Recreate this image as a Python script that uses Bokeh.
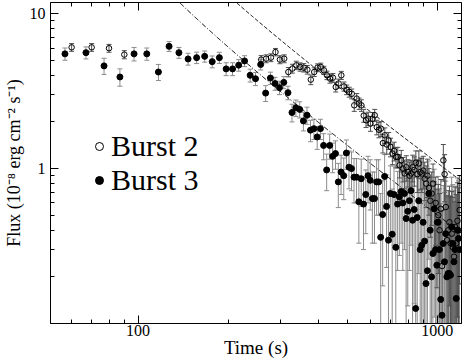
import numpy as np
from bokeh.plotting import figure
from bokeh.models import (ColumnDataSource, Whisker, TeeHead, LogAxis, Legend, LegendItem,
                          Range1d, FixedTicker, PrintfTickFormatter)
from bokeh.embed import file_html
from bokeh.resources import INLINE

# ---------------- data ----------------
# Burst 3 (filled circles)
t3 = [57, 67, 77, 87, 97, 107, 117, 127, 137, 147,
      157, 167, 177, 187, 197, 207, 217, 227, 237, 247,
      257, 267, 277, 287, 297, 307, 317, 327, 337, 347,
      357, 367, 377, 387, 397, 407, 417, 427, 437, 447,
      457, 467, 477, 487, 497, 507, 517, 527, 537, 547,
      557, 567, 577, 587, 597, 607, 617, 627, 637, 647,
      657, 667, 677, 687, 697, 707, 717, 727, 737, 747,
      757, 767, 777, 787, 797, 807, 817, 827, 837, 847,
      857, 867, 877, 887, 897, 907, 917, 927, 937, 947,
      957, 967, 977, 987, 997, 1007, 1017, 1027, 1037, 1047,
      1057, 1067, 1077, 1087, 1097, 1107, 1117, 1127, 1137, 1147,
      1157, 1167, 1177, 1187]
f3 = [5.5, 5.6, 4.6, 3.9, 5.5, 5.5, 4.2, 6.15, 5.6, 5.1,
      5.2, 5.3, 4.9, 5.2, 4.4, 4.4, 4.65, 4.95, 4.0, 3.8,
      4.7, 3.07, 3.84, 3.54, 3.33, 3.6, 3.09, 2.3, 2.47, 2.41,
      2.03, 2.21, 1.77, 1.81, 1.6, 1.81, 1.41, 0.98, 1.41, 1.2,
      1.25, 0.82, 0.95, 0.9, 1.26, 1.02, 1.0, 0.88, 0.88, 0.61,
      0.86, 0.59, 0.68, 0.9, 0.84, 0.64, 0.64, 0.82, 0.82, 0.36,
      0.505, 0.89, 0.57, 0.345, 0.69, 0.377, 0.68, 0.31, 0.59, 0.655,
      0.71, 0.6, 0.69, 0.476, 0.53, 0.62, 0.72, 0.464, 0.544, 0.125,
      0.483, 0.62, 0.30, 0.32, 0.45, 0.34, 0.181, 0.219, 0.69, 0.4,
      0.20, 0.283, 0.55, 0.3, 0.238, 0.45, 0.3, 0.143, 0.113, 0.328,
      0.25, 0.38, 0.2, 0.21, 0.21, 0.205, 0.42, 0.328, 0.25, 0.3,
      0.145, 0.4, 0.354, 0.3]
e3 = [0.5, 0.5, 0.55, 0.5, 0.55, 0.5, 0.5, 0.45, 0.45, 0.45,
      0.44, 0.44, 0.43, 0.43, 0.42, 0.42, 0.4, 0.4, 0.38, 0.37,
      0.37, 0.36, 0.35, 0.34, 0.33, 0.32, 0.31, 0.3, 0.3, 0.29,
      0.28, 0.28, 0.28, 0.27, 0.27, 0.27, 0.27, 0.26, 0.26, 0.26,
      0.26, 0.26, 0.27, 0.27, 0.27, 0.28, 0.28, 0.28, 0.28, 0.28,
      0.29, 0.29, 0.3, 0.3, 0.3, 0.31, 0.31, 0.32, 0.32, 0.33,
      0.33, 0.34, 0.34, 0.35, 0.35, 0.36, 0.36, 0.37, 0.37, 0.38,
      0.38, 0.38, 0.39, 0.39, 0.4, 0.4, 0.4, 0.4, 0.41, 0.41,
      0.41, 0.41, 0.42, 0.42, 0.42, 0.42, 0.42, 0.43, 0.43, 0.43,
      0.43, 0.43, 0.44, 0.44, 0.44, 0.44, 0.44, 0.45, 0.45, 0.45,
      0.45, 0.45, 0.45, 0.46, 0.46, 0.46, 0.46, 0.46, 0.47, 0.47,
      0.47, 0.47, 0.48, 0.48]

# Burst 2 (open circles)
t2 = [60, 70, 80, 90,
      258, 268, 278, 288, 298, 308, 318, 328, 338, 348,
      358, 368, 378, 388, 398, 408, 418, 428, 438, 448,
      458, 468, 478, 488, 498, 508, 518, 528, 538, 548,
      558, 568, 578, 588, 598, 608, 618, 628, 638, 648,
      658, 668, 678, 688, 698, 708, 718, 728, 738, 748,
      758, 768, 778, 788,
      798, 808, 818, 828, 838, 848, 858, 868, 878, 888,
      898, 908, 918, 928, 938, 948, 958, 968, 978, 988,
      998, 1008, 1018, 1028, 1038, 1048, 1058, 1068, 1078, 1088,
      1098, 1108, 1118, 1128, 1138, 1148, 1158, 1168, 1178, 1188]
f2 = [6.06, 6.06, 5.98, 5.44,
      5.05, 5.12, 5.2, 5.65, 5.05, 5.12, 4.2, 4.42, 4.64, 4.53,
      4.48, 4.35, 3.75, 4.2, 4.48, 4.53, 4.31, 4.0, 3.81, 3.86,
      3.36, 3.54, 4.0, 3.39, 3.23, 3.12, 3.04, 2.56, 2.83, 2.63,
      2.56, 2.2, 2.05, 2.1, 1.95, 2.1, 2.21, 1.85, 1.78, 1.81,
      1.46, 1.64, 1.43, 1.52, 1.38, 1.25, 1.3, 1.19, 1.19, 1.05,
      1.13, 1.0, 0.93, 1.02,
      0.95, 0.9, 0.93, 1.02, 0.98, 1.09, 0.92, 1.08, 0.95, 0.93,
      0.97, 0.86, 0.8, 0.9, 0.75, 0.62, 0.69, 0.8, 0.55, 0.6,
      0.45, 0.5, 0.4, 0.55, 0.235, 1.13, 0.92, 0.565, 0.345, 0.4,
      0.45, 0.33, 0.38, 0.31, 0.27, 0.42, 0.33, 0.46, 0.4, 0.54]
e2 = [0.35, 0.35, 0.35, 0.33,
      0.31, 0.3, 0.3, 0.31, 0.3, 0.3, 0.29, 0.29, 0.29, 0.28,
      0.28, 0.28, 0.27, 0.27, 0.26, 0.26, 0.26, 0.25, 0.25, 0.25,
      0.24, 0.24, 0.24, 0.23, 0.23, 0.23, 0.22, 0.22, 0.22, 0.22,
      0.22, 0.21, 0.21, 0.21, 0.21, 0.2, 0.2, 0.2, 0.2, 0.2,
      0.2, 0.19, 0.19, 0.19, 0.19, 0.19, 0.18, 0.18, 0.18, 0.18,
      0.18, 0.18, 0.19, 0.19,
      0.19, 0.2, 0.2, 0.2, 0.21, 0.21, 0.22, 0.22, 0.22, 0.23,
      0.23, 0.24, 0.24, 0.25, 0.25, 0.26, 0.26, 0.27, 0.27, 0.28,
      0.28, 0.29, 0.29, 0.3, 0.3, 0.3, 0.31, 0.31, 0.32, 0.32,
      0.32, 0.33, 0.33, 0.34, 0.34, 0.34, 0.35, 0.35, 0.35, 0.36]

# power-law decay models  F = f_ref * ((t - t0)/(t_ref - t0))^-index
fit_upper = dict(f_ref=11.9, t_ref=212.0, t0=35.0, index=1.41)
fit_lower = dict(f_ref=11.9, t_ref=137.0, t0=32.0, index=1.425)

# axis ticks
x_major = [100, 1000]
x_minor = [60, 70, 80, 90, 200, 300, 400, 500, 600, 700, 800, 900]
y_major = [1, 10]
y_minor = [0.2, 0.3, 0.4, 0.5, 0.6, 0.7, 0.8, 0.9, 2, 3, 4, 5, 6, 7, 8, 9]

x_limits = (51, 1205)
y_limits = (0.1, 11.8)

x_title = "Time (s)"
y_title = "Flux (10⁻⁸ erg cm⁻² s⁻¹)"
series_labels = ["Burst 2", "Burst 3"]

# ---------------- plot ----------------
FONT = "Liberation Serif"


def src(t, f, e):
    t = np.array(t, float)
    f = np.array(f, float)
    e = np.array(e, float)
    return ColumnDataSource(dict(t=t, f=f, hi=f + e, lo=np.maximum(f - e, 0.005)))


s3 = src(t3, f3, e3)
s2 = src(t2, f2, e2)

W, H = 463, 360
p = figure(width=W, height=H, x_axis_type="log", y_axis_type="log",
           x_range=Range1d(*x_limits), y_range=Range1d(*y_limits),
           output_backend="svg", toolbar_location=None,
           min_border_left=50, min_border_right=2, min_border_top=2, min_border_bottom=37)
p.xgrid.visible = False
p.ygrid.visible = False
p.outline_line_color = "black"
p.outline_line_width = 1
p.background_fill_color = "white"
p.border_fill_color = "white"

xa = p.below[0]
ya = p.left[0]

xt = FixedTicker(ticks=x_major, minor_ticks=x_minor)
yt = FixedTicker(ticks=y_major, minor_ticks=y_minor)


def style(ax, ticker):
    ax.ticker = ticker
    ax.major_tick_in = 8
    ax.major_tick_out = 0
    ax.minor_tick_in = 4
    ax.minor_tick_out = 0
    ax.axis_line_color = "black"
    ax.major_tick_line_color = "black"
    ax.minor_tick_line_color = "black"


style(xa, xt)
style(ya, yt)
for ax in (xa, ya):
    ax.formatter = PrintfTickFormatter(format="%d")
    ax.major_label_text_font = FONT
    ax.major_label_text_font_size = "16px"
    ax.major_label_text_color = "black"
    ax.axis_label_text_font = FONT
    ax.axis_label_text_font_style = "normal"
    ax.axis_label_text_color = "black"

xa.axis_label = x_title
xa.axis_label_text_font_size = "19px"
xa.major_label_standoff = 1
xa.axis_label_standoff = -2
ya.axis_label = y_title
ya.axis_label_text_font_size = "18px"
ya.major_label_standoff = 5
ya.axis_label_standoff = 3

# mirrored tick axes on the top and right edges of the frame (no labels)
right = LogAxis(fixed_location=x_limits[1])
style(right, yt)
right.major_label_text_color = None
right.major_label_standoff = 0
p.add_layout(right, "right")

top = LogAxis(fixed_location=y_limits[1])
style(top, xt)
top.major_label_text_color = None
top.major_label_standoff = 0
p.add_layout(top, "above")

# error bars
for s, col in ((s3, "#8c8c8c"), (s2, "#505050")):
    w = Whisker(base="t", upper="hi", lower="lo", source=s, line_color=col, line_width=1,
                upper_head=TeeHead(size=5, line_color=col, line_width=1),
                lower_head=TeeHead(size=5, line_color=col, line_width=1))
    p.add_layout(w)

# model lines
tl = np.geomspace(100, 1300, 400)


def model(par, t):
    return par["f_ref"] * ((t - par["t0"]) / (par["t_ref"] - par["t0"])) ** (-par["index"])


p.line(tl, model(fit_upper, tl), line_color="black", line_width=1, line_dash="4 2")
p.line(tl, model(fit_lower, tl), line_color="black", line_width=1, line_dash="5 2 1 2")

r3 = p.scatter("t", "f", source=s3, marker="circle", size=6,
               fill_color="black", line_color="black")
r2 = p.scatter("t", "f", source=s2, marker="circle", size=5.5,
               fill_color=None, line_color="black", line_width=1)

# one legend per entry so that both rows sit where the reference has them
for lab, rend, ypos in ((series_labels[0], r2, 160), (series_labels[1], r3, 126)):
    lg = Legend(items=[LegendItem(label=lab, renderers=[rend])],
                location=(39, ypos), label_text_font=FONT, label_text_font_size="30px",
                label_text_color="black",
                glyph_width=20, glyph_height=20, label_standoff=2, spacing=0,
                padding=0, margin=0, border_line_color=None, background_fill_alpha=0)
    p.add_layout(lg)

open("out.html", "w").write(file_html(p, INLINE))
